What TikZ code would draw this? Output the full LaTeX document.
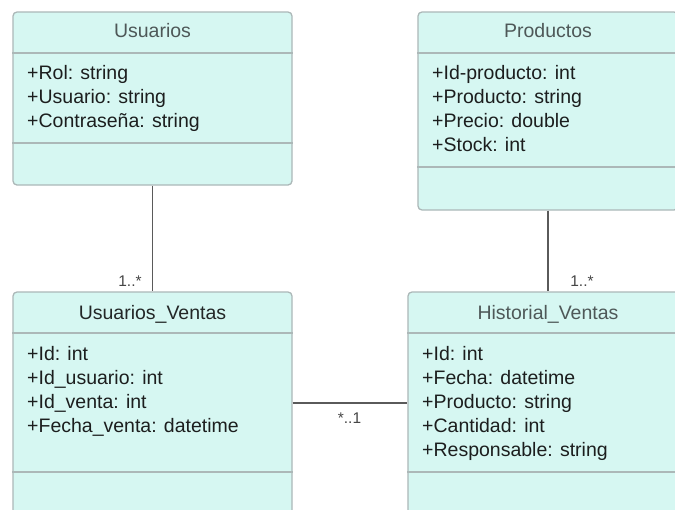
\documentclass[tikz,border=0pt]{standalone}
\usepackage{fontspec}
\setmainfont{Liberation Sans}
\definecolor{boxfill}{RGB}{214,247,242}
\definecolor{boxline}{RGB}{172,184,184}
\definecolor{titletext}{RGB}{78,88,88}
\definecolor{attrtext}{RGB}{28,30,30}
\definecolor{connline}{RGB}{90,90,90}
\definecolor{labeltext}{RGB}{70,70,70}
\tikzset{
  classbox/.style={draw=boxline, fill=boxfill, line width=1.3pt, rounded corners=4pt, inner sep=0pt},
  sepline/.style={draw=boxline, line width=1.3pt},
  titlelbl/.style={anchor=base, inner sep=0pt, text=titletext, font=\fontsize{19.5}{24}\selectfont},
  attr/.style={anchor=base west, inner sep=0pt, text=attrtext, font=\fontsize{19.5}{24}\selectfont},
  conn/.style={draw=connline, line width=1.1pt},
  mult/.style={inner sep=0pt, text=labeltext, font=\fontsize{15.5}{18}\selectfont},
}
\begin{document}
\begin{tikzpicture}[x=1pt,y=-1pt]
\useasboundingbox (0,0) rectangle (675,509);
\clip (0,0) rectangle (675,509);
\fill[white] (0,0) rectangle (675,509);
% boxes
\node[classbox, minimum width=279pt, minimum height=173pt] (us) at (152.5,98.5) {};
\node[classbox, minimum width=260pt, minimum height=198pt] (pr) at (548,111) {};
\node[classbox, minimum width=279pt, minimum height=238pt] (uv) at (152.5,411) {};
\node[classbox, minimum width=280pt, minimum height=238pt] (hv) at (548,411) {};
% separators
\draw[sepline] (us.west |- 0,53) -- (us.east |- 0,53);
\draw[sepline] (us.west |- 0,143) -- (us.east |- 0,143);
\draw[sepline] (pr.west |- 0,53) -- (pr.east |- 0,53);
\draw[sepline] (pr.west |- 0,167) -- (pr.east |- 0,167);
\draw[sepline] (uv.west |- 0,333) -- (uv.east |- 0,333);
\draw[sepline] (uv.west |- 0,472) -- (uv.east |- 0,472);
\draw[sepline] (hv.west |- 0,333) -- (hv.east |- 0,333);
\draw[sepline] (hv.west |- 0,472) -- (hv.east |- 0,472);
% titles
\node[titlelbl] (ust) at (152.5,37) {Usuarios};
\node[titlelbl] (prt) at (548,37) {Productos};
\node[titlelbl, text=attrtext!85!titletext] (uvt) at (152.5,319) {Usuarios\_Ventas};
\node[titlelbl] (hvt) at (548,319) {Historial\_Ventas};
% attributes
\node[attr] (us1) at (27,79) {+Rol: string};
\node[attr] (us2) at (27,103) {+Usuario: string};
\node[attr] (us3) at (27,127) {+Contraseña: string};
\node[attr] (pr1) at (432,79) {+Id-producto: int};
\node[attr] (pr2) at (432,103) {+Producto: string};
\node[attr] (pr3) at (432,127) {+Precio: double};
\node[attr] (pr4) at (432,151) {+Stock: int};
\node[attr] (uv1) at (27,360) {+Id: int};
\node[attr] (uv2) at (27,384) {+Id\_usuario: int};
\node[attr] (uv3) at (27,408) {+Id\_venta: int};
\node[attr] (uv4) at (27,432) {+Fecha\_venta: datetime};
\node[attr] (hv1) at (422,360) {+Id: int};
\node[attr] (hv2) at (422,384) {+Fecha: datetime};
\node[attr] (hv3) at (422,408) {+Producto: string};
\node[attr] (hv4) at (422,432) {+Cantidad: int};
\node[attr] (hv5) at (422,456) {+Responsable: string};
% connectors
\draw[conn] (us.south) -- (uv.north);
\draw[conn] (pr.south) -- (hv.north);
\draw[conn] (uv.east |- 0,403) -- (hv.west |- 0,403);
% multiplicities
\node[mult] (m1) at (130,281) {1..*};
\node[mult] (m2) at (582,281) {1..*};
\node[mult] (m3) at (349.5,418) {*..1};
\end{tikzpicture}
\end{document}
